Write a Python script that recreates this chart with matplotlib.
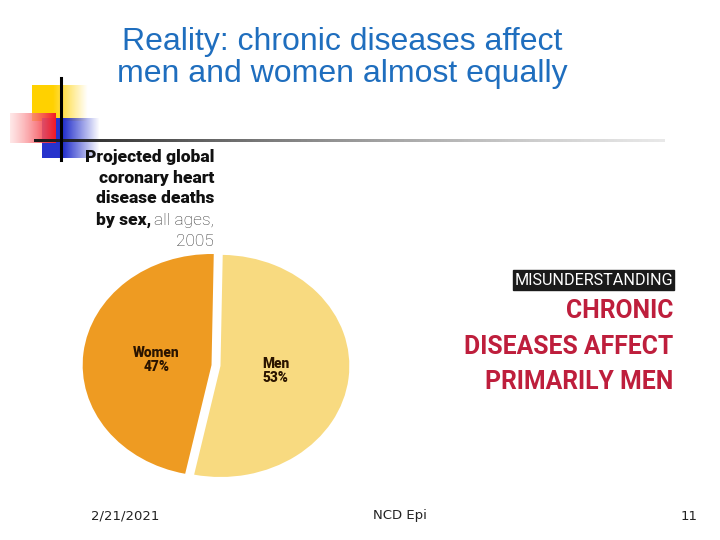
import numpy as np
import matplotlib.pyplot as plt

# data
sexes = ['Men', 'Women']
shares = [53, 47]
colors = ['#F8DA80', '#EE9B22']

title = 'Reality: chronic diseases affect\nmen and women almost equally'
footer_date = '2/21/2021'
footer_mid = 'NCD Epi'
footer_page = '11'

NARROW = ['Roboto', 'DejaVu Sans']
SANS = ['Liberation Sans', 'DejaVu Sans']


def gradient(ax, x0, x1, y0, y1, rgb, a0, a1, rgb1=None):
    n = 64
    t = np.linspace(0, 1, n)
    img = np.zeros((1, n, 4))
    c0 = np.array(rgb)
    c1 = np.array(rgb1) if rgb1 is not None else c0
    img[0, :, :3] = c0[None, :] * (1 - t[:, None]) + c1[None, :] * t[:, None]
    img[0, :, 3] = np.clip(a0 + (a1 - a0) * t, 0, 1)
    ax.imshow(img, extent=(x0, x1, y1, y0), aspect='auto',
              interpolation='bilinear', zorder=2)


def main():
    fig = plt.figure(figsize=(7.2, 5.4), dpi=100)
    bg = fig.add_axes([0, 0, 1, 1])
    bg.set_xlim(0, 720)
    bg.set_ylim(540, 0)
    bg.axis('off')

    # slide decoration
    gradient(bg, 32, 88, 85, 121, (1.0, 0.82, 0.0), 1.6, 0.0)
    gradient(bg, 42, 100, 118, 158, (0.15, 0.2, 0.8), 1.6, 0.0)
    gradient(bg, 10, 56, 113, 143, (1.0, 0.85, 0.85), 0.6, 1.0,
             rgb1=(0.95, 0.1, 0.15))
    bg.plot([61, 61], [78, 160], color='black', lw=2.2, zorder=3)
    gradient(bg, 34, 665, 139.8, 142.2, (0.1, 0.1, 0.1), 1.0, 0.2,
             rgb1=(0.55, 0.55, 0.55))

    bg.text(342, 58, title, ha='center', va='center', fontsize=23,
            color='#1F6EBE', family=SANS, linespacing=1.1)

    # chart heading
    hsize = 12.5
    heading = ['Projected global', 'coronary heart', 'disease deaths']
    for i, line in enumerate(heading):
        bg.text(214, 157 + 20.5 * i, line, ha='right', va='center',
                fontsize=hsize, fontweight='heavy', family=NARROW,
                color='#111111')
    ages = bg.text(214, 220, 'all ages,', ha='right', va='center',
                   fontsize=hsize, fontweight='light', family=NARROW,
                   color='#333333')
    bg.text(214, 241, '2005', ha='right', va='center', fontsize=hsize,
            fontweight='light', family=NARROW, color='#333333')
    fig.canvas.draw()
    bb = ages.get_window_extent().transformed(bg.transData.inverted())
    bg.text(min(bb.x0, bb.x1) - 3, 220, 'by sex,', ha='right', va='center',
            fontsize=hsize, fontweight='heavy', family=NARROW,
            color='#111111')

    # misunderstanding block
    bg.add_patch(plt.Rectangle((513, 270), 161, 20, color='#1A1A1A',
                               zorder=2))
    bg.text(593.5, 280.5, 'MISUNDERSTANDING', ha='center', va='center',
            fontsize=11.6, color='white', family=NARROW, zorder=3)
    red_lines = ['CHRONIC', 'DISEASES AFFECT', 'PRIMARILY MEN']
    for i, line in enumerate(red_lines):
        bg.text(673, 311 + 35.5 * i, line, ha='right', va='center',
                fontsize=17.8, fontweight='bold', color='#BE1E3C',
                family=NARROW)

    # footer
    for x, s in [(125, footer_date), (400, footer_mid), (689, footer_page)]:
        bg.text(x, 516, s, ha='center', va='center', fontsize=9.5,
                color='#222222', family=['DejaVu Sans'])

    # pie
    ax = fig.add_axes([82 / 720, 1 - 481 / 540, 268 / 720, 231 / 540])
    labels = [f'{s}\n{v}%' for s, v in zip(sexes, shares)]
    wedges, texts = ax.pie(shares, labels=labels, colors=colors,
                           startangle=89, counterclock=False,
                           explode=(0.035, 0.035), labeldistance=0.43,
                           wedgeprops=dict(linewidth=0))
    for t in texts:
        t.set_ha('center')
        t.set_fontsize(9.8)
        t.set_fontweight('heavy')
        t.set_family(NARROW)
        t.set_color('#2A1400')
        t.set_linespacing(1.0)
    ax.set_aspect('auto')
    ax.set_xlim(-1.04, 1.04)
    ax.set_ylim(-1.04, 1.04)
    ax.axis('off')

    fig.savefig('out.png', dpi=100)


if __name__ == '__main__':
    main()
